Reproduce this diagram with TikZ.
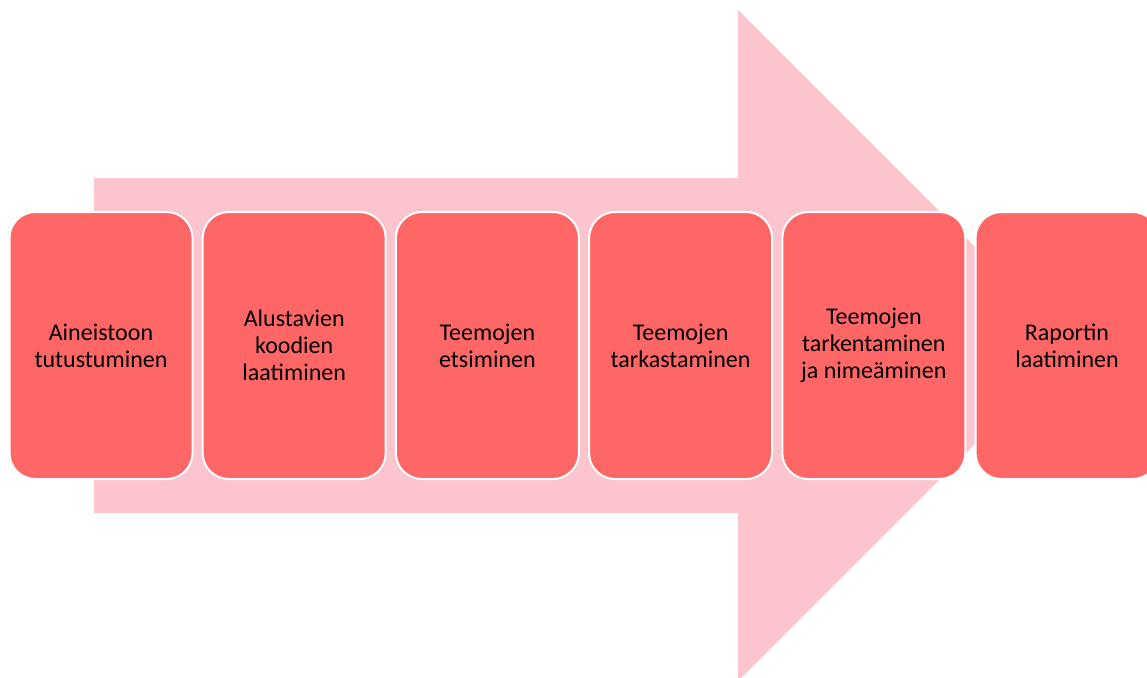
\documentclass[tikz,border=0pt]{standalone}
\usepackage{fontspec}
\setmainfont{Carlito}
\usetikzlibrary{positioning}
\definecolor{stagered}{HTML}{FF6666}
\definecolor{arrowpink}{HTML}{FCC5CE}
\tikzset{x=1pt, y=-1pt,
stagebox/.style={ % Sets the properties for each stage
rectangle,
rounded corners=26pt,
draw=white,
line width=2pt,
fill=stagered,
minimum width=183pt,
minimum height=267pt,
align=center,
font=\fontsize{24}{27}\selectfont},
bigarrow/.style={fill=arrowpink}}
\begin{document}
\begin{tikzpicture}
	\clip (0,0) rectangle (1147,677); % Picture frame
	\fill[bigarrow] (94,178) -- (738,178) -- (738,10) -- (1073.5,345.5)
		-- (738,681) -- (738,513) -- (94,513) -- cycle;
	\node[stagebox] (s1) at (101,345.5) {Aineistoon\\tutustuminen};
	\node[stagebox, right=8.2pt of s1] (s2) {Alustavien\\koodien\\laatiminen};
	\node[stagebox, right=8.2pt of s2] (s3) {Teemojen\\etsiminen};
	\node[stagebox, right=8.2pt of s3] (s4) {Teemojen\\tarkastaminen};
	\node[stagebox, right=8.2pt of s4] (s5) {Teemojen\\tarkentaminen\\ja nimeäminen};
	\node[stagebox, right=8.2pt of s5] (s6) {Raportin\\laatiminen};
\end{tikzpicture}
\end{document}
